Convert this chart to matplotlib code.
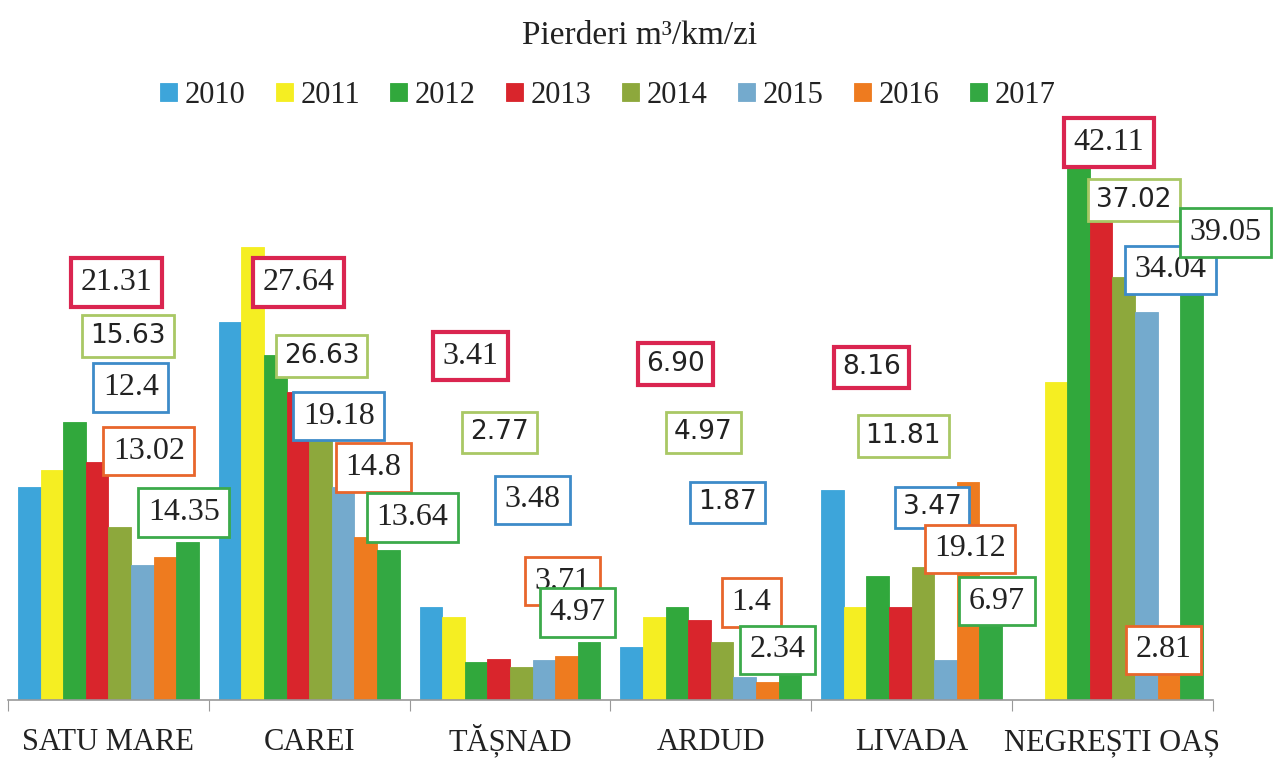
import matplotlib
matplotlib.use("Agg")
import matplotlib.pyplot as plt
import numpy as np

categories = ["SATU MARE", "CAREI", "TĂȘNAD", "ARDUD", "LIVADA", "NEGREȘTI OAȘ"]
years = ["2010", "2011", "2012", "2013", "2014", "2015", "2016", "2017"]

# bar heights (no y scale shown)
v2010 = [17.0, 30.2, 7.4, 4.2, 16.8, np.nan]
v2011 = [18.4, 36.2, 6.6, 6.6, 7.4, 25.4]
v2012 = [22.2, 27.6, 3.0, 7.4, 9.9, 42.9]
v2013 = [19.0, 24.6, 3.3, 6.4, 7.4, 38.2]
v2014 = [13.8, 23.8, 2.6, 4.6, 10.6, 33.8]
v2015 = [10.8, 17.0, 3.2, 1.8, 3.2, 31.0]
v2016 = [11.4, 13.0, 3.5, 1.4, 17.4, 2.7]
v2017 = [12.6, 12.0, 4.6, 2.2, 6.2, 35.3]
series = [v2010, v2011, v2012, v2013, v2014, v2015, v2016, v2017]

# labelled values shown in the boxes, per category (2013, 2014, 2015, 2016, 2017)
lab2013 = ["21.31", "27.64", "3.41", "6.90", "8.16", "42.11"]
lab2014 = ["15.63", "26.63", "2.77", "4.97", "11.81", "37.02"]
lab2015 = ["12.4", "19.18", "3.48", "1.87", "3.47", "34.04"]
lab2016 = ["13.02", "14.8", "3.71", "1.4", "19.12", "2.81"]
lab2017 = ["14.35", "13.64", "4.97", "2.34", "6.97", "39.05"]

# label box placement (x offset from category centre, y in data units)
pos2013 = [(0.042, 33.4), (-0.052, 33.4), (-0.197, 27.5), (-0.177, 26.9), (-0.201, 26.6), (-0.017, 44.6)]
pos2014 = [(0.097, 29.1), (0.062, 27.5), (-0.052, 21.4), (-0.037, 21.4), (-0.042, 21.1), (0.107, 40.0)]
pos2015 = [(0.112, 25.0), (0.147, 22.7), (0.112, 16.0), (0.082, 15.8), (0.102, 15.4), (0.291, 34.4)]
pos2016 = [(0.201, 19.9), (0.321, 18.6), (0.261, 9.5), (0.201, 7.8), (0.291, 12.1), (0.256, 4.0)]
pos2017 = [(0.376, 15.0), (0.515, 14.6), (0.336, 7.0), (0.331, 4.0), (0.425, 7.9), (0.565, 37.4)]

bar_colors = ["#3DA5DA", "#F5EE22", "#31A83C", "#D9252C", "#8DA83C", "#74AACD", "#EE7B1F", "#33A842"]
box_colors = {"2013": "#DA2550", "2014": "#A9C865", "2015": "#3D8BC9",
              "2016": "#E8662C", "2017": "#3CAA4B"}

serif = ["Liberation Serif", "DejaVu Serif"]
sans = ["DejaVu Sans"]

fig = plt.figure(figsize=(12.79, 7.67), dpi=100)
ax = fig.add_axes([0.00625, 0.0874, 0.942, 0.7497])

x = np.arange(len(categories))
bw = 0.1125
for j, (vals, col, yr) in enumerate(zip(series, bar_colors, years)):
    ax.bar(x + (j - 3.5) * bw, vals, width=bw, color=col, label=yr,
           edgecolor=col, linewidth=0.6, zorder=2)

def put_labels(labels, positions, year, sans_set=()):
    for i, (t, (dx, y)) in enumerate(zip(labels, positions)):
        fam = sans if (year == "2014" or t in sans_set) else serif
        fs = 19 if fam is sans else 23
        lw = 3.0 if year == "2013" else 2.0
        ax.text(i + dx, y, t, ha="center", va="center", fontsize=fs,
                family=fam, color="#222222", zorder=5, clip_on=False,
                bbox=dict(boxstyle="square,pad=0.3", facecolor="white",
                          edgecolor=box_colors[year], linewidth=lw))

put_labels(lab2013, pos2013, "2013", sans_set=("6.90", "8.16"))
put_labels(lab2014, pos2014, "2014")
put_labels(lab2015, pos2015, "2015", sans_set=("1.87", "3.47"))
put_labels(lab2016, pos2016, "2016")
put_labels(lab2017, pos2017, "2017")

ax.set_xlim(-0.5, len(categories) - 0.5)
ax.set_ylim(0, 46)
for s in ["top", "right", "left"]:
    ax.spines[s].set_visible(False)
ax.spines["bottom"].set_color("#999999")
ax.spines["bottom"].set_linewidth(1.2)
ax.set_yticks([])
ax.set_xticks(np.arange(-0.5, len(categories)), minor=False)
ax.set_xticklabels([])
ax.tick_params(axis="x", which="major", length=8, color="#999999", direction="out")
ax.set_xticks(x, minor=True)
ax.set_xticklabels(categories, minor=True, fontsize=22, family=serif, color="#222222",
                   va="baseline")
ax.tick_params(axis="x", which="minor", length=0, pad=36)

fig.text(0.5, 0.953, "Pierderi m³/km/zi", ha="center", va="center",
         fontsize=24, family=serif, color="#222222")

leg = fig.legend(loc="center", bbox_to_anchor=(0.475, 0.876), ncol=8, frameon=False,
                 prop={"family": serif, "size": 22}, handlelength=0.55,
                 handleheight=0.55, handletextpad=0.25, columnspacing=1.0)
for t in leg.get_texts():
    t.set_color("#222222")

fig.savefig("out.png", dpi=100, facecolor="white")
